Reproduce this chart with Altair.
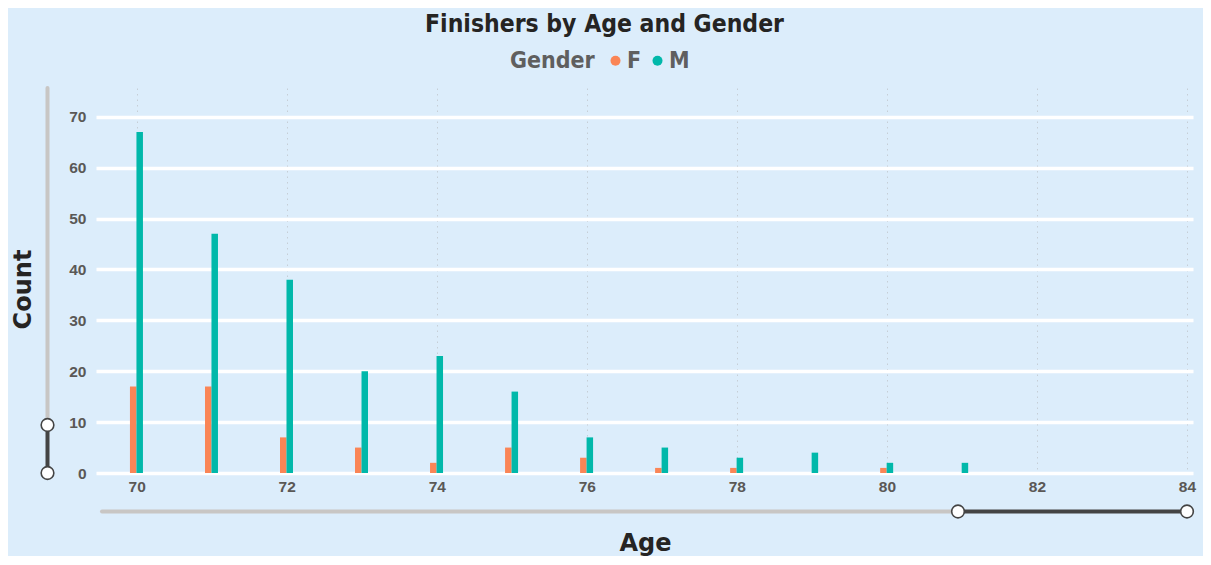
import altair as alt
import pandas as pd

ages = [70, 71, 72, 73, 74, 75, 76, 77, 78, 79, 80, 81]
f_counts = [17, 17, 7, 5, 2, 5, 3, 1, 1, 0, 1, 0]
m_counts = [67, 47, 38, 20, 23, 16, 7, 5, 3, 4, 2, 2]
genders = ["F", "M"]
colors = ["#FA8556", "#01B8AA"]
x_ticks = [70, 72, 74, 76, 78, 80, 82, 84]
y_ticks = [0, 10, 20, 30, 40, 50, 60, 70]

rows = []
for a, f, m in zip(ages, f_counts, m_counts):
    rows.append({"Age": a, "Gender": "F", "Count": f})
    rows.append({"Age": a, "Gender": "M", "Count": m})
df = pd.DataFrame(rows)

BG = "#DCEDFB"
COND = "DejaVu Sans Condensed, DejaVu Sans, sans-serif"
BOLD = "DejaVu Sans, sans-serif"
LAB = "Liberation Sans, Arial, sans-serif"

W, H = 1097, 385

xs = alt.X(
    "Age:Q",
    scale=alt.Scale(domain=[69.4575, 84.08], nice=False, zero=False, padding=0),
    axis=alt.Axis(
        values=x_ticks, grid=True, gridColor="#C6CED6", gridDash=[1.5, 4], gridWidth=1,
        domain=False, ticks=False, labelFont=LAB, labelFontSize=15.5, labelFontWeight="bold",
        labelColor="#5A5856", labelPadding=6, labelFlush=False,
        title="Age", titleFont=BOLD, titleFontSize=24, titleFontWeight="bold",
        titleColor="#252423", titleX=549, titleY=77, titleAlign="center",
        titleBaseline="alphabetic", titleAngle=0,
    ),
)
ys = alt.Y(
    "Count:Q",
    scale=alt.Scale(domain=[0, 75.67], nice=False, padding=0),
    axis=alt.Axis(
        values=y_ticks, grid=True, gridColor="white", gridWidth=3.5,
        domain=False, ticks=False, labelFont=LAB, labelFontSize=15.5, labelFontWeight="bold",
        labelColor="#5A5856", labelPadding=10,
        title="Count", titleFont=BOLD, titleFontSize=24, titleFontWeight="bold",
        titleColor="#252423", titleX=-66, titleY=201, titleAlign="center",
        titleBaseline="alphabetic", titleAngle=270,
    ),
)
color = alt.Color(
    "Gender:N",
    scale=alt.Scale(domain=genders, range=colors),
    legend=alt.Legend(
        orient="none", legendX=414, legendY=-39, direction="horizontal",
        title="Gender", titleOrient="left", titleFont=COND, titleFontSize=23,
        titleFontWeight="bold", titleColor="#5F5F5F", titlePadding=9,
        labelFont=COND, labelFontSize=23, labelFontWeight="bold", labelColor="#5F5F5F",
        labelOffset=0, columnPadding=4, symbolType="circle", symbolSize=100,
        symbolStrokeWidth=0, symbolOpacity=1,
    ),
)

base = alt.Chart(df).transform_filter("datum.Count > 0")
bars_f = base.transform_filter("datum.Gender == 'F'").mark_bar(
    width=6.5, xOffset=-3.5, opacity=1
).encode(x=xs, y=ys, color=color)
bars_m = base.transform_filter("datum.Gender == 'M'").mark_bar(
    width=6.5, xOffset=3.0, opacity=1
).encode(x=xs, y=ys, color=color)

one = alt.Data(values=[{}])


def hrule(x1, x2, y, c):
    return alt.Chart(one).mark_rule(color=c, strokeWidth=4, strokeCap="round").encode(
        x=alt.value(x1), x2=alt.value(x2), y=alt.value(y))


def vrule(x, y1, y2, c):
    return alt.Chart(one).mark_rule(color=c, strokeWidth=4, strokeCap="round").encode(
        x=alt.value(x), y=alt.value(y1), y2=alt.value(y2))


def handle(x, y):
    return alt.Chart(one).mark_point(
        shape="circle", filled=True, fill="white", stroke="#444444", strokeWidth=1.6,
        size=160, opacity=1).encode(x=alt.value(x), y=alt.value(y))


deco = [
    hrule(6, 862, 423.5, "#C8C6C4"),
    hrule(862, 1091, 423.5, "#444444"),
    vrule(-48.5, 0, 337, "#C8C6C4"),
    vrule(-48.5, 337, 385, "#444444"),
    handle(862, 423.5), handle(1091, 423.5),
    handle(-48.5, 337), handle(-48.5, 385),
]

chart = alt.layer(bars_f, bars_m, *deco).properties(
    width=W, height=H,
    title=alt.TitleParams(
        "Finishers by Age and Gender", font=COND, fontSize=24.5, fontWeight="bold",
        color="#252423", anchor="middle", frame="group", dx=-40, offset=12,
    ),
    autosize=alt.AutoSizeParams(type="none"),
    padding={"left": 88, "top": 80, "right": 10, "bottom": 83},
    background=BG,
).configure_view(stroke=None, fill=BG)

chart.save("out.html", embed_options={"renderer": "svg", "actions": False})
